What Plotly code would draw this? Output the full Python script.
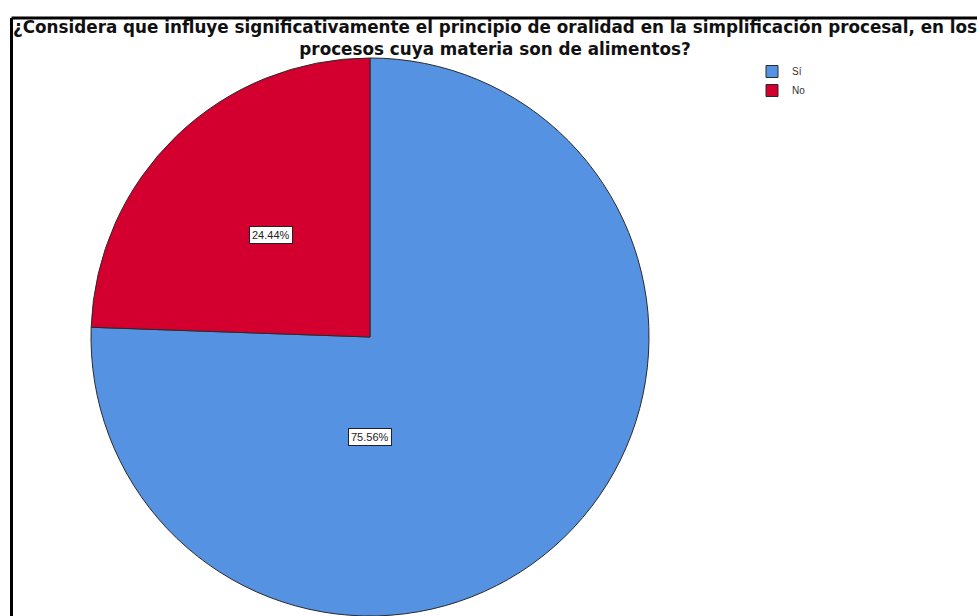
import plotly.graph_objects as go

# Survey answers (counts) for the question in the chart title
categories = ["Sí", "No"]
counts = [34, 11]
colors = ["#5592E2", "#D3002F"]

title_lines = [
    "¿Considera que influye significativamente el principio de oralidad en la simplificación procesal, en los",
    "procesos cuya materia son de alimentos?",
]

W, H = 977, 616
total = sum(counts)
percents = [100.0 * c / total for c in counts]

fig = go.Figure(
    go.Pie(
        labels=categories,
        values=counts,
        sort=False,
        direction="clockwise",
        rotation=0,
        textinfo="none",
        hoverinfo="label+percent",
        marker=dict(colors=colors, line=dict(color="#2a2a2a", width=1)),
        domain=dict(x=[91 / W, 649 / W], y=[0, 1 - 58 / H]),
    )
)

# Boxed percentage labels inside each slice
label_pos = {"Sí": (370, 437), "No": (271, 235)}
annotations = []
for cat, pct in zip(categories, percents):
    px, py = label_pos[cat]
    annotations.append(
        dict(
            x=px / W, y=1 - py / H, xref="paper", yref="paper",
            text=f"{pct:.2f}%", showarrow=False,
            font=dict(family="Liberation Sans, Arial", size=11, color="#222"),
            bgcolor="white", bordercolor="#222", borderwidth=1, borderpad=2,
            xanchor="center", yanchor="middle",
        )
    )

# Two-line title
annotations.append(
    dict(
        x=495 / W, y=1 - 16 / H, xref="paper", yref="paper",
        text="<br>".join(title_lines), showarrow=False, align="center",
        font=dict(family="DejaVu Sans", size=16.8, color="#111", weight="bold"),
        xanchor="center", yanchor="top", borderpad=0,
    )
)

# Chart frame (left and top edges; the rest runs off the page)
shapes = [
    dict(type="line", xref="paper", yref="paper",
         x0=11.5 / W, x1=1.01, y0=1 - 18 / H, y1=1 - 18 / H,
         line=dict(color="black", width=3)),
    dict(type="line", xref="paper", yref="paper",
         x0=11.5 / W, x1=11.5 / W, y0=-0.01, y1=1 - 18 / H,
         line=dict(color="black", width=3)),
]

fig.update_layout(
    width=W, height=H,
    margin=dict(l=0, r=0, t=0, b=0),
    paper_bgcolor="white", plot_bgcolor="white",
    showlegend=True,
    legend=dict(
        x=752 / W, y=1 - 57 / H, xanchor="left", yanchor="top",
        font=dict(family="Liberation Sans, Arial", size=10, color="#333"),
        bgcolor="rgba(0,0,0,0)", tracegroupgap=0, itemwidth=30,
    ),
    annotations=annotations,
    shapes=shapes,
)

fig.write_html("out.html")
